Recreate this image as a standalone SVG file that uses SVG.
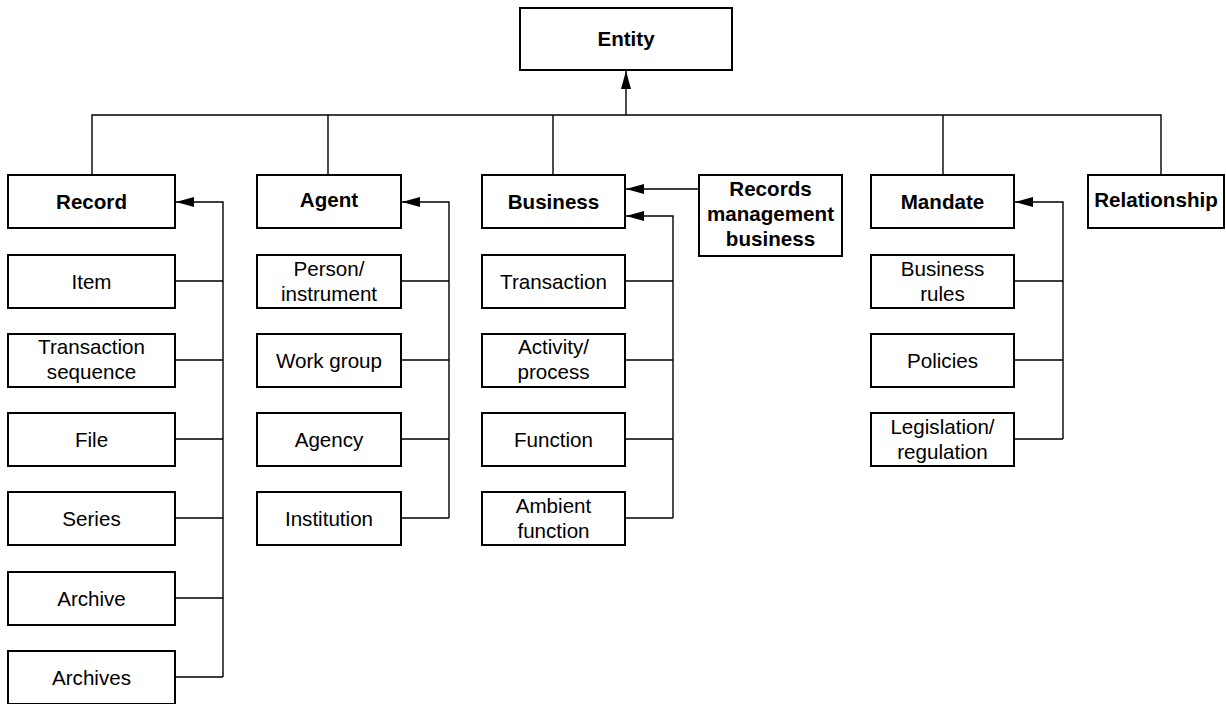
<svg xmlns="http://www.w3.org/2000/svg" width="1226" height="704" viewBox="0 0 1226 704">
<style>
.box{fill:#fff;stroke:#000;stroke-width:2}
.t{font-family:"Liberation Sans",Arial,sans-serif;font-size:20.6px;text-anchor:middle;fill:#000}
.b{font-weight:bold}
.c{fill:none;stroke:#000;stroke-width:1.4}
</style>
<defs>
<marker id="ah" markerUnits="userSpaceOnUse" markerWidth="19" markerHeight="11" refX="18" refY="5" orient="auto">
<path d="M0,0 L18,5 L0,10 z" fill="#000"/>
</marker>
</defs>
<rect width="1226" height="704" fill="#fff"/>
<g id="connectors">
<path class="c" d="M92,175 V115 H1161 V175"/>
<path class="c" d="M328,115 V175 M553,115 V175 M943,115 V175"/>
<path class="c" d="M626,115 V71" marker-end="url(#ah)"/>
<path class="c" d="M223,677 V202 H176" marker-end="url(#ah)"/>
<path class="c" d="M175,281 H223 M175,360 H223 M175,439 H223 M175,518 H223 M175,598 H223 M175,677 H223"/>
<path class="c" d="M449,518 V202 H402" marker-end="url(#ah)"/>
<path class="c" d="M401,281 H449 M401,360 H449 M401,439 H449 M401,518 H449"/>
<path class="c" d="M673,518 V216 H626" marker-end="url(#ah)"/>
<path class="c" d="M699,189 H626" marker-end="url(#ah)"/>
<path class="c" d="M625,281 H673 M625,360 H673 M625,439 H673 M625,518 H673"/>
<path class="c" d="M1063,439 V202 H1015" marker-end="url(#ah)"/>
<path class="c" d="M1014,281 H1063 M1014,360 H1063 M1014,439 H1063"/>
</g>
<g id="entity"><rect class="box" x="520" y="8" width="212" height="62"/><text class="t b" x="626" y="46">Entity</text></g>
<g id="record"><rect class="box" x="8" y="175" width="167" height="53"/><text class="t b" x="91.5" y="209">Record</text></g>
<g id="agent"><rect class="box" x="257" y="175" width="144" height="53"/><text class="t b" x="329" y="207">Agent</text></g>
<g id="business"><rect class="box" x="482" y="175" width="143" height="53"/><text class="t b" x="553.5" y="209">Business</text></g>
<g id="rmb"><rect class="box" x="699" y="175" width="143" height="81"/><text class="t b" x="770.5" y="196">Records</text><text class="t b" x="770.5" y="221">management</text><text class="t b" x="770.5" y="246">business</text></g>
<g id="mandate"><rect class="box" x="871" y="175" width="143" height="53"/><text class="t b" x="942.5" y="209">Mandate</text></g>
<g id="relationship"><rect class="box" x="1088" y="175" width="136" height="53"/><text class="t b" x="1156" y="207">Relationship</text></g>

<g id="item"><rect class="box" x="8" y="255" width="167" height="53"/><text class="t" x="91.5" y="289">Item</text></g>
<g id="txseq"><rect class="box" x="8" y="334" width="167" height="53"/><text class="t" x="91.5" y="354">Transaction</text><text class="t" x="91.5" y="379">sequence</text></g>
<g id="file"><rect class="box" x="8" y="413" width="167" height="53"/><text class="t" x="91.5" y="447">File</text></g>
<g id="series"><rect class="box" x="8" y="492" width="167" height="53"/><text class="t" x="91.5" y="526">Series</text></g>
<g id="archive"><rect class="box" x="8" y="572" width="167" height="53"/><text class="t" x="91.5" y="606">Archive</text></g>
<g id="archives"><rect class="box" x="8" y="651" width="167" height="53"/><text class="t" x="91.5" y="685">Archives</text></g>

<g id="person"><rect class="box" x="257" y="255" width="144" height="53"/><text class="t" x="329" y="276">Person/</text><text class="t" x="329" y="301">instrument</text></g>
<g id="workgroup"><rect class="box" x="257" y="334" width="144" height="53"/><text class="t" x="329" y="368">Work group</text></g>
<g id="agency"><rect class="box" x="257" y="413" width="144" height="53"/><text class="t" x="329" y="447">Agency</text></g>
<g id="institution"><rect class="box" x="257" y="492" width="144" height="53"/><text class="t" x="329" y="526">Institution</text></g>

<g id="transaction"><rect class="box" x="482" y="255" width="143" height="53"/><text class="t" x="553.5" y="289">Transaction</text></g>
<g id="activity"><rect class="box" x="482" y="334" width="143" height="53"/><text class="t" x="553.5" y="354">Activity/</text><text class="t" x="553.5" y="379">process</text></g>
<g id="function"><rect class="box" x="482" y="413" width="143" height="53"/><text class="t" x="553.5" y="447">Function</text></g>
<g id="ambient"><rect class="box" x="482" y="492" width="143" height="53"/><text class="t" x="553.5" y="513">Ambient</text><text class="t" x="553.5" y="538">function</text></g>

<g id="bizrules"><rect class="box" x="871" y="255" width="143" height="53"/><text class="t" x="942.5" y="276">Business</text><text class="t" x="942.5" y="301">rules</text></g>
<g id="policies"><rect class="box" x="871" y="334" width="143" height="53"/><text class="t" x="942.5" y="368">Policies</text></g>
<g id="legislation"><rect class="box" x="871" y="413" width="143" height="53"/><text class="t" x="942.5" y="434">Legislation/</text><text class="t" x="942.5" y="459">regulation</text></g>
</svg>
